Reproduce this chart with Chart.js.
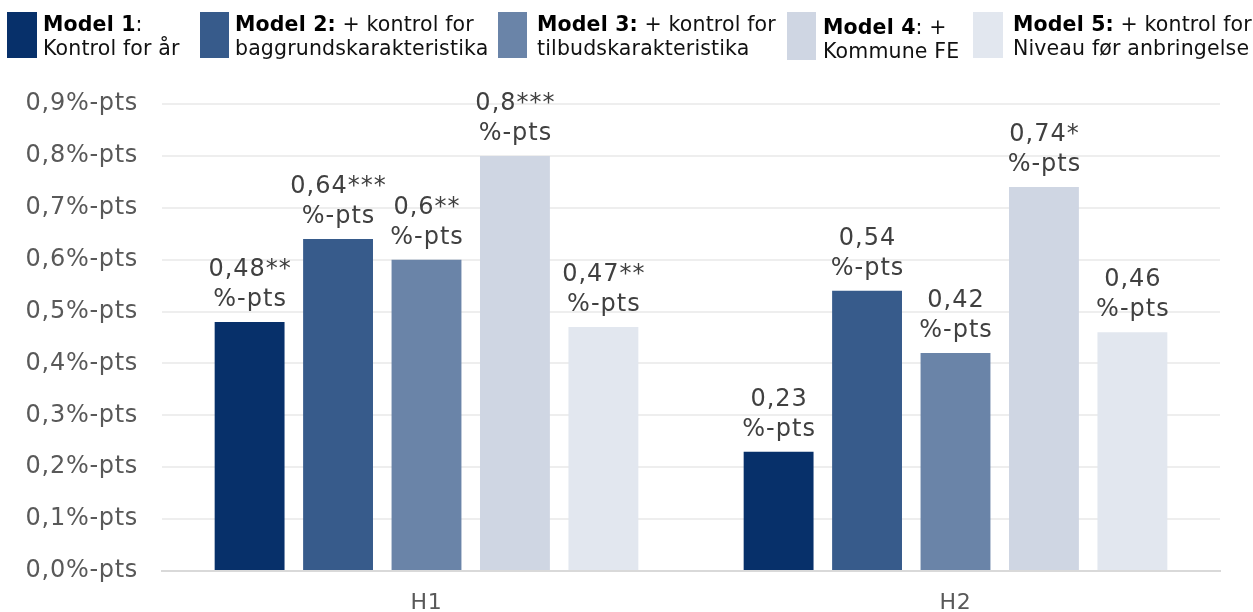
<!DOCTYPE html>
<html lang="da">
<head>
  <meta charset="UTF-8" />
  <title>Modeller H1 og H2</title>
  <script src="https://cdn.jsdelivr.net/npm/chart.js"></script>
  <style>
    body { margin: 0; background: #fff; font-family: "DejaVu Sans", Verdana, sans-serif; }
    .wrap { position: relative; width: 1253px; height: 612px; overflow: hidden; }
    #chart { position: absolute; left: 0; top: 0; }
    .legend { position: absolute; left: 0; top: 0; width: 1253px; height: 70px; }
    .box { position: absolute; top: 0; height: 46px; }
    .txt { position: absolute; top: 0; font-size: 20.5px; line-height: 24px; color: #111; white-space: nowrap; letter-spacing: 0.15px; }
    .txt b { color: #000; }
  </style>
</head>
<body>
<div class="wrap">
  <canvas id="chart" width="1253" height="612"></canvas>
  <div class="legend" id="legend"></div>
</div>
<script>
  const categories = ['H1', 'H2'];
  const modelNames = ['Model 1', 'Model 2', 'Model 3', 'Model 4', 'Model 5'];
  const model1 = [0.48, 0.23];
  const model2 = [0.64, 0.54];
  const model3 = [0.60, 0.42];
  const model4 = [0.80, 0.74];
  const model5 = [0.47, 0.46];
  const stars1 = ['**', ''];
  const stars2 = ['***', ''];
  const stars3 = ['**', ''];
  const stars4 = ['***', '*'];
  const stars5 = ['**', ''];
  const yTicks = [0, 0.1, 0.2, 0.3, 0.4, 0.5, 0.6, 0.7, 0.8, 0.9];

  // legend text: bold part, rest of first line, second line
  const legendBold = ['Model 1', 'Model 2:', 'Model 3:', 'Model 4', 'Model 5:'];
  const legendRest = [':', ' + kontrol for', ' + kontrol for', ': +', ' + kontrol for'];
  const legendLine2 = ['Kontrol for år', 'baggrundskarakteristika', 'tilbudskarakteristika', 'Kommune FE', 'Niveau før anbringelse'];

  const colors = ['#07306A', '#375B8B', '#6A84A8', '#CFD6E3', '#E2E7EF'];

  // legend layout (box x, box width, text x)
  const legendPos = [[7, 30, 43], [200, 29, 235], [498, 29, 537], [787, 29, 823], [973, 30, 1013]];
  const legend = document.getElementById('legend');
  legendPos.forEach((p, i) => {
    const box = document.createElement('div');
    box.className = 'box';
    box.style.cssText = `left:${p[0]}px;top:12px;width:${p[1]}px;height:${i === 3 ? 48 : 46}px;background:${colors[i]}`;
    const t = document.createElement('div');
    t.className = 'txt';
    t.style.cssText = `left:${p[2]}px;top:${i === 3 ? 15 : 12}px`;
    t.innerHTML = `<b>${legendBold[i]}</b>${legendRest[i]}<br>${legendLine2[i]}`;
    legend.appendChild(box);
    legend.appendChild(t);
  });

  const fmt = v => String(v).replace('.', ',');

  // verdana-ish spacing for the axis text
  const spacing = {
    id: 'spacing',
    beforeDraw(chart) { chart.ctx.letterSpacing = '0.7px'; }
  };

  const barLabels = {
    id: 'barLabels',
    afterDatasetsDraw(chart) {
      const ctx = chart.ctx;
      ctx.save();
      ctx.letterSpacing = '1px';
      ctx.font = '24px "DejaVu Sans"';
      ctx.fillStyle = '#404040';
      ctx.textAlign = 'center';
      ctx.textBaseline = 'alphabetic';
      chart.data.datasets.forEach((ds, di) => {
        chart.getDatasetMeta(di).data.forEach((bar, i) => {
          ctx.fillText(fmt(ds.data[i]) + ds.stars[i], bar.x + 0.5, bar.y - 46);
          ctx.fillText('%-pts', bar.x + 0.5, bar.y - 16);
        });
      });
      ctx.restore();
    }
  };

  const series = [model1, model2, model3, model4, model5];
  const stars = [stars1, stars2, stars3, stars4, stars5];

  new Chart(document.getElementById('chart'), {
    type: 'bar',
    data: {
      labels: categories,
      datasets: series.map((d, i) => ({
        label: modelNames[i],
        data: d,
        stars: stars[i],
        backgroundColor: colors[i],
        barPercentage: 0.79,
        categoryPercentage: 0.836
      }))
    },
    options: {
      responsive: false,
      animation: false,
      layout: { padding: { top: 104, right: 33, bottom: 0, left: 0 } },
      plugins: { legend: { display: false }, tooltip: { enabled: false } },
      scales: {
        x: {
          grid: { display: false, drawTicks: false },
          border: { display: true, color: '#D9D9D9', width: 2 },
          ticks: { color: '#595959', font: { family: 'DejaVu Sans', size: 22 }, padding: 19 },
          afterFit(s) { s.height = 41; }
        },
        y: {
          min: 0,
          max: 0.9,
          afterBuildTicks(s) { s.ticks = yTicks.map(v => ({ value: v })); },
          grid: {
            drawTicks: false,
            color: c => c.tick && c.tick.value === 0 ? '#D9D9D9' : '#EEEEEE',
            lineWidth: 2
          },
          border: { display: false },
          ticks: {
            color: '#595959',
            font: { family: 'DejaVu Sans', size: 24 },
            padding: 24,
            callback: v => v.toFixed(1).replace('.', ',') + '%-pts'
          },
          afterFit(s) { s.width = 162; }
        }
      }
    },
    plugins: [spacing, barLabels]
  });
</script>
</body>
</html>
